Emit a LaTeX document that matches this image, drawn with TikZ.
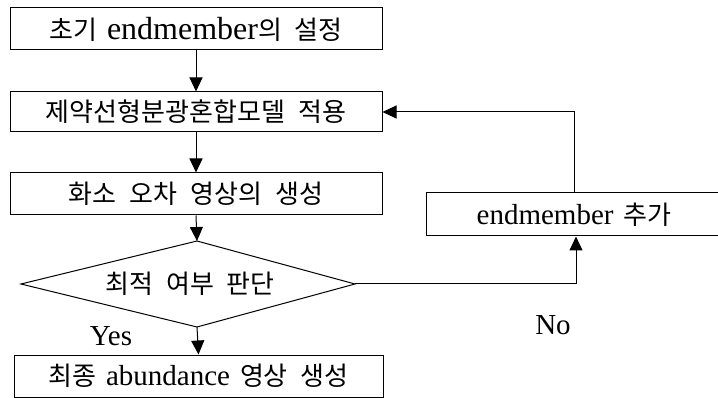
\documentclass[tikz,border=0pt]{standalone}
\usepackage{fontspec}
\setmainfont{Liberation Serif}
\newfontfamily\kr{Noto Sans CJK KR}
\usetikzlibrary{arrows.meta,calc}
\newcommand\K[1]{{\kr\fontsize{26}{30}\selectfont #1}}
\newcommand\ks{\hspace{13pt}}
\newcommand\ls{\hspace{10pt}}
\begin{document}
\begin{tikzpicture}[x=1pt,y=-1pt,
  box/.style={draw,line width=1pt,rectangle,inner sep=0pt,font=\fontsize{29}{32}\selectfont},
  arr/.style={line width=1pt,-{Triangle[length=14pt,width=13pt]}},
  ln/.style={line width=1pt},
  lbl/.style={font=\fontsize{29}{32}\selectfont,inner sep=0pt}]
\clip (0,0) rectangle (718,398);
\node[box,minimum width=372pt,minimum height=42pt] (b1) at (196,29)
  {\K{초기}\ls{\fontsize{32}{35}\selectfont endmember}\K{의}\ks\K{설정}};
\node[box,minimum width=372pt,minimum height=40pt] (b2) at (196,112)
  {\K{제약선형분광혼합모델}\ks\K{적용}};
\node[box,minimum width=372pt,minimum height=42pt] (b3) at (196,194)
  {\K{화소}\ks\K{오차}\ks\K{영상의}\ks\K{생성}};
\coordinate (dt) at (197,241);
\coordinate (dr) at (355,284);
\coordinate (db) at (197,327);
\coordinate (dl) at (21,284);
\draw[ln] (dt) -- (dr) -- (db) -- (dl) -- cycle;
\node[lbl] (dtext) at (190,284) {\K{최적}\ks\K{여부}\ks\K{판단}};
\node[box,minimum width=369pt,minimum height=42pt] (b5) at (198.5,376)
  {\K{최종}\ls abundance\ls\K{영상}\ks\K{생성}};
\node[box,minimum width=296pt,minimum height=43pt] (b4) at (574,214.5)
  {endmember\ls\K{추가}};
\draw[arr] (b1.south) -- (b2.north);
\draw[arr] (b2.south) -- (b3.north);
\draw[arr] (b3.south) -- (dt);
\draw[arr] (db) -- (b5.north);
\draw[arr] (b4.north) |- (b2.east);
\draw[arr] (dr) -| ([xshift=2pt]b4.south);
\node[lbl] (yes) at (111,336) {Yes};
\node[lbl] (no) at (553,325) {No};
\end{tikzpicture}
\end{document}
